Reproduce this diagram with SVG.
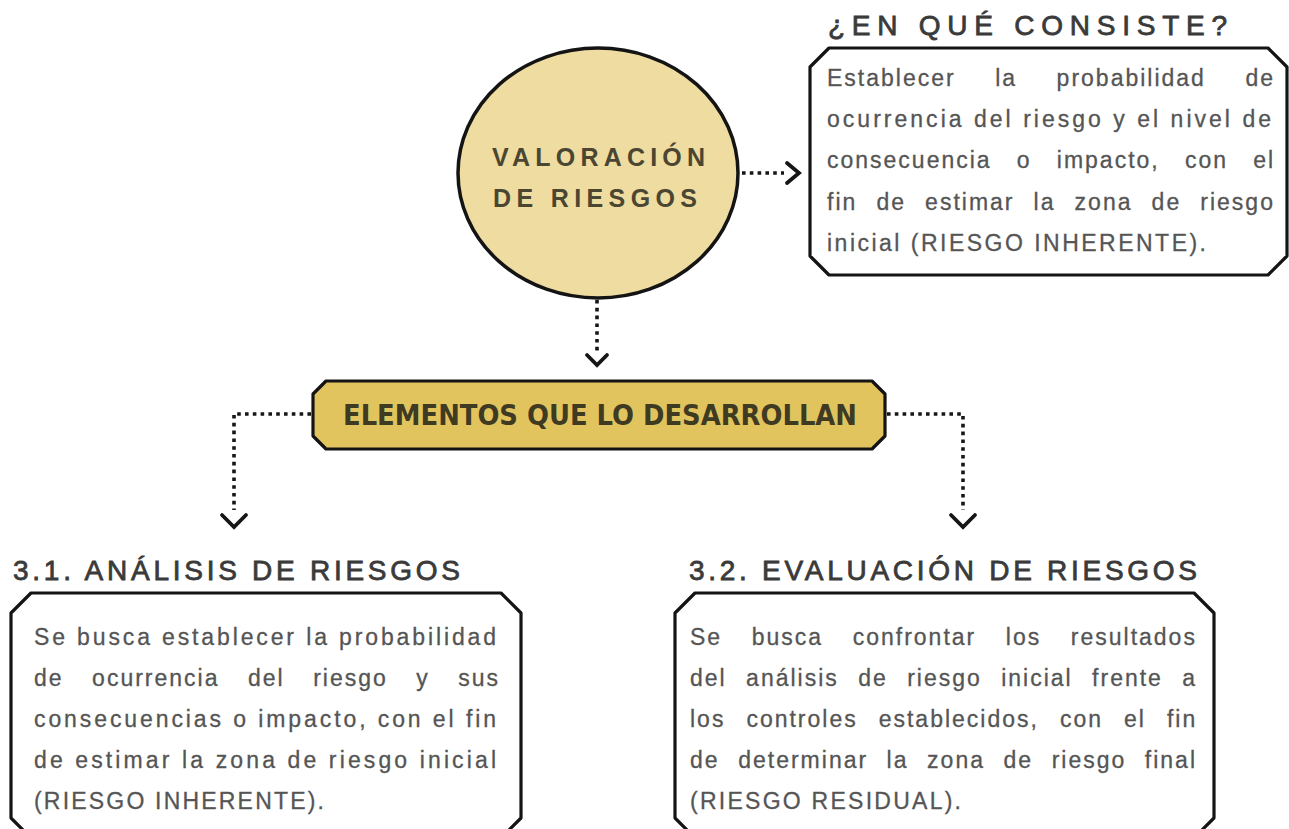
<svg xmlns="http://www.w3.org/2000/svg" width="1289" height="829" viewBox="0 0 1289 829">
<style>
.box{fill:#ffffff;stroke:#141414;stroke-width:3.2;stroke-linejoin:round}
.gold{fill:#e2c45f;stroke:#141414;stroke-width:3.2;stroke-linejoin:round}
.circ{fill:#efdca0;stroke:#141414;stroke-width:3.5}
.dot{fill:none;stroke:#161616;stroke-width:3.6;stroke-dasharray:3.6 4.2}
.chev{fill:none;stroke:#161616;stroke-width:3.8;stroke-linecap:round;stroke-linejoin:miter}
.ttl{font-family:"Liberation Sans",Arial,sans-serif;font-size:28px;fill:#3a3a3a;stroke:#3a3a3a;stroke-width:0.8}
.ctr{font-family:"Liberation Sans",Arial,sans-serif;font-size:25px;font-weight:bold;fill:#4a4632}
.el{font-family:"Liberation Sans Narrow","DejaVu Sans Condensed","Liberation Sans",sans-serif;font-size:28px;font-weight:bold;fill:#3f3a22}
.bd{font-family:"Liberation Sans",Arial,sans-serif;font-size:23px;fill:#555555;letter-spacing:2px;stroke:#555555;stroke-width:0.3}
</style>

<g id="connectors">
  <path class="dot" d="M742,173 H784"/>
  <path class="chev" d="M787,163 L799,173 L787,183"/>
  <path class="dot" d="M597,300 V354"/>
  <path class="chev" d="M587,355 L597,365 L607,355"/>
  <path class="dot" d="M311,414 H234 V510"/>
  <path class="chev" d="M222,515 L234,527 L246,515"/>
  <path class="dot" d="M887,414 H963 V510"/>
  <path class="chev" d="M951,515 L963,527 L975,515"/>
</g>

<g id="valoracion">
  <ellipse class="circ" cx="598" cy="173" rx="140" ry="125"/>
  <text class="ctr" x="492" y="166" textLength="213" lengthAdjust="spacing">VALORACIÓN</text>
  <text class="ctr" x="493" y="207" textLength="204" lengthAdjust="spacing">DE RIESGOS</text>
</g>

<g id="consiste">
  <text class="ttl" x="828" y="35" textLength="399" lengthAdjust="spacing">¿EN QUÉ CONSISTE?</text>
  <polygon class="box" points="829,48 1268,48 1287,67 1287,256 1268,275 829,275 810,256 810,67"/>
  <text class="bd" y="86"><tspan x="827">Establecer</tspan><tspan x="995.2">la</tspan><tspan x="1056.6">probabilidad</tspan><tspan x="1245.4">de</tspan></text>
  <text class="bd" x="827" y="127" textLength="446" lengthAdjust="spacing">ocurrencia del riesgo y el nivel de</text>
  <text class="bd" y="168"><tspan x="827">consecuencia</tspan><tspan x="1016.8">o</tspan><tspan x="1056.8">impacto,</tspan><tspan x="1184.9">con</tspan><tspan x="1253.2">el</tspan></text>
  <text class="bd" y="210"><tspan x="827">fin</tspan><tspan x="876.4">de</tspan><tspan x="925.1">estimar</tspan><tspan x="1033.6">la</tspan><tspan x="1074.6">zona</tspan><tspan x="1151.6">de</tspan><tspan x="1200.3">riesgo</tspan></text>
  <text class="bd" x="827" y="251" textLength="381" lengthAdjust="spacing">inicial (RIESGO INHERENTE).</text>
</g>

<g id="elementos">
  <polygon class="gold" points="326,381 872,381 885,394 885,436 872,449 326,449 313,436 313,394"/>
  <text class="el" x="343" y="425" textLength="514" lengthAdjust="spacingAndGlyphs">ELEMENTOS QUE LO DESARROLLAN</text>
</g>

<g id="analisis">
  <text class="ttl" x="13" y="580" textLength="447" lengthAdjust="spacing">3.1. ANÁLISIS DE RIESGOS</text>
  <polygon class="box" points="31,593 501,593 521,613 521,818 501,838 31,838 11,818 11,613"/>
  <text class="bd" x="34" y="645" textLength="464" lengthAdjust="spacing">Se busca establecer la probabilidad</text>
  <text class="bd" y="686"><tspan x="34">de</tspan><tspan x="92.1">ocurrencia</tspan><tspan x="248">del</tspan><tspan x="313.2">riesgo</tspan><tspan x="416.3">y</tspan><tspan x="458.3">sus</tspan></text>
  <text class="bd" x="34" y="727" textLength="464" lengthAdjust="spacing">consecuencias o impacto, con el fin</text>
  <text class="bd" x="34" y="768" textLength="464" lengthAdjust="spacing">de estimar la zona de riesgo inicial</text>
  <text class="bd" x="34" y="809" textLength="292" lengthAdjust="spacing">(RIESGO INHERENTE).</text>
</g>

<g id="evaluacion">
  <text class="ttl" x="689" y="580" textLength="508" lengthAdjust="spacing">3.2. EVALUACIÓN DE RIESGOS</text>
  <polygon class="box" points="695,593 1194,593 1214,613 1214,818 1194,838 695,838 675,818 675,613"/>
  <text class="bd" y="645"><tspan x="690">Se</tspan><tspan x="751.7">busca</tspan><tspan x="852.7">confrontar</tspan><tspan x="1005.8">los</tspan><tspan x="1070.8">resultados</tspan></text>
  <text class="bd" y="686"><tspan x="690">del</tspan><tspan x="746.1">análisis</tspan><tspan x="858.2">de</tspan><tspan x="907.2">riesgo</tspan><tspan x="1001.2">inicial</tspan><tspan x="1092.1">frente</tspan><tspan x="1182.3">a</tspan></text>
  <text class="bd" y="727"><tspan x="690">los</tspan><tspan x="746.4">controles</tspan><tspan x="878.7">establecidos,</tspan><tspan x="1059.9">con</tspan><tspan x="1124">el</tspan><tspan x="1166.9">fin</tspan></text>
  <text class="bd" y="768"><tspan x="690">de</tspan><tspan x="738.2">determinar</tspan><tspan x="886.6">la</tspan><tspan x="927.1">zona</tspan><tspan x="1003.5">de</tspan><tspan x="1051.7">riesgo</tspan><tspan x="1144.8">final</tspan></text>
  <text class="bd" x="690" y="809" textLength="273" lengthAdjust="spacing">(RIESGO RESIDUAL).</text>
</g>
</svg>
